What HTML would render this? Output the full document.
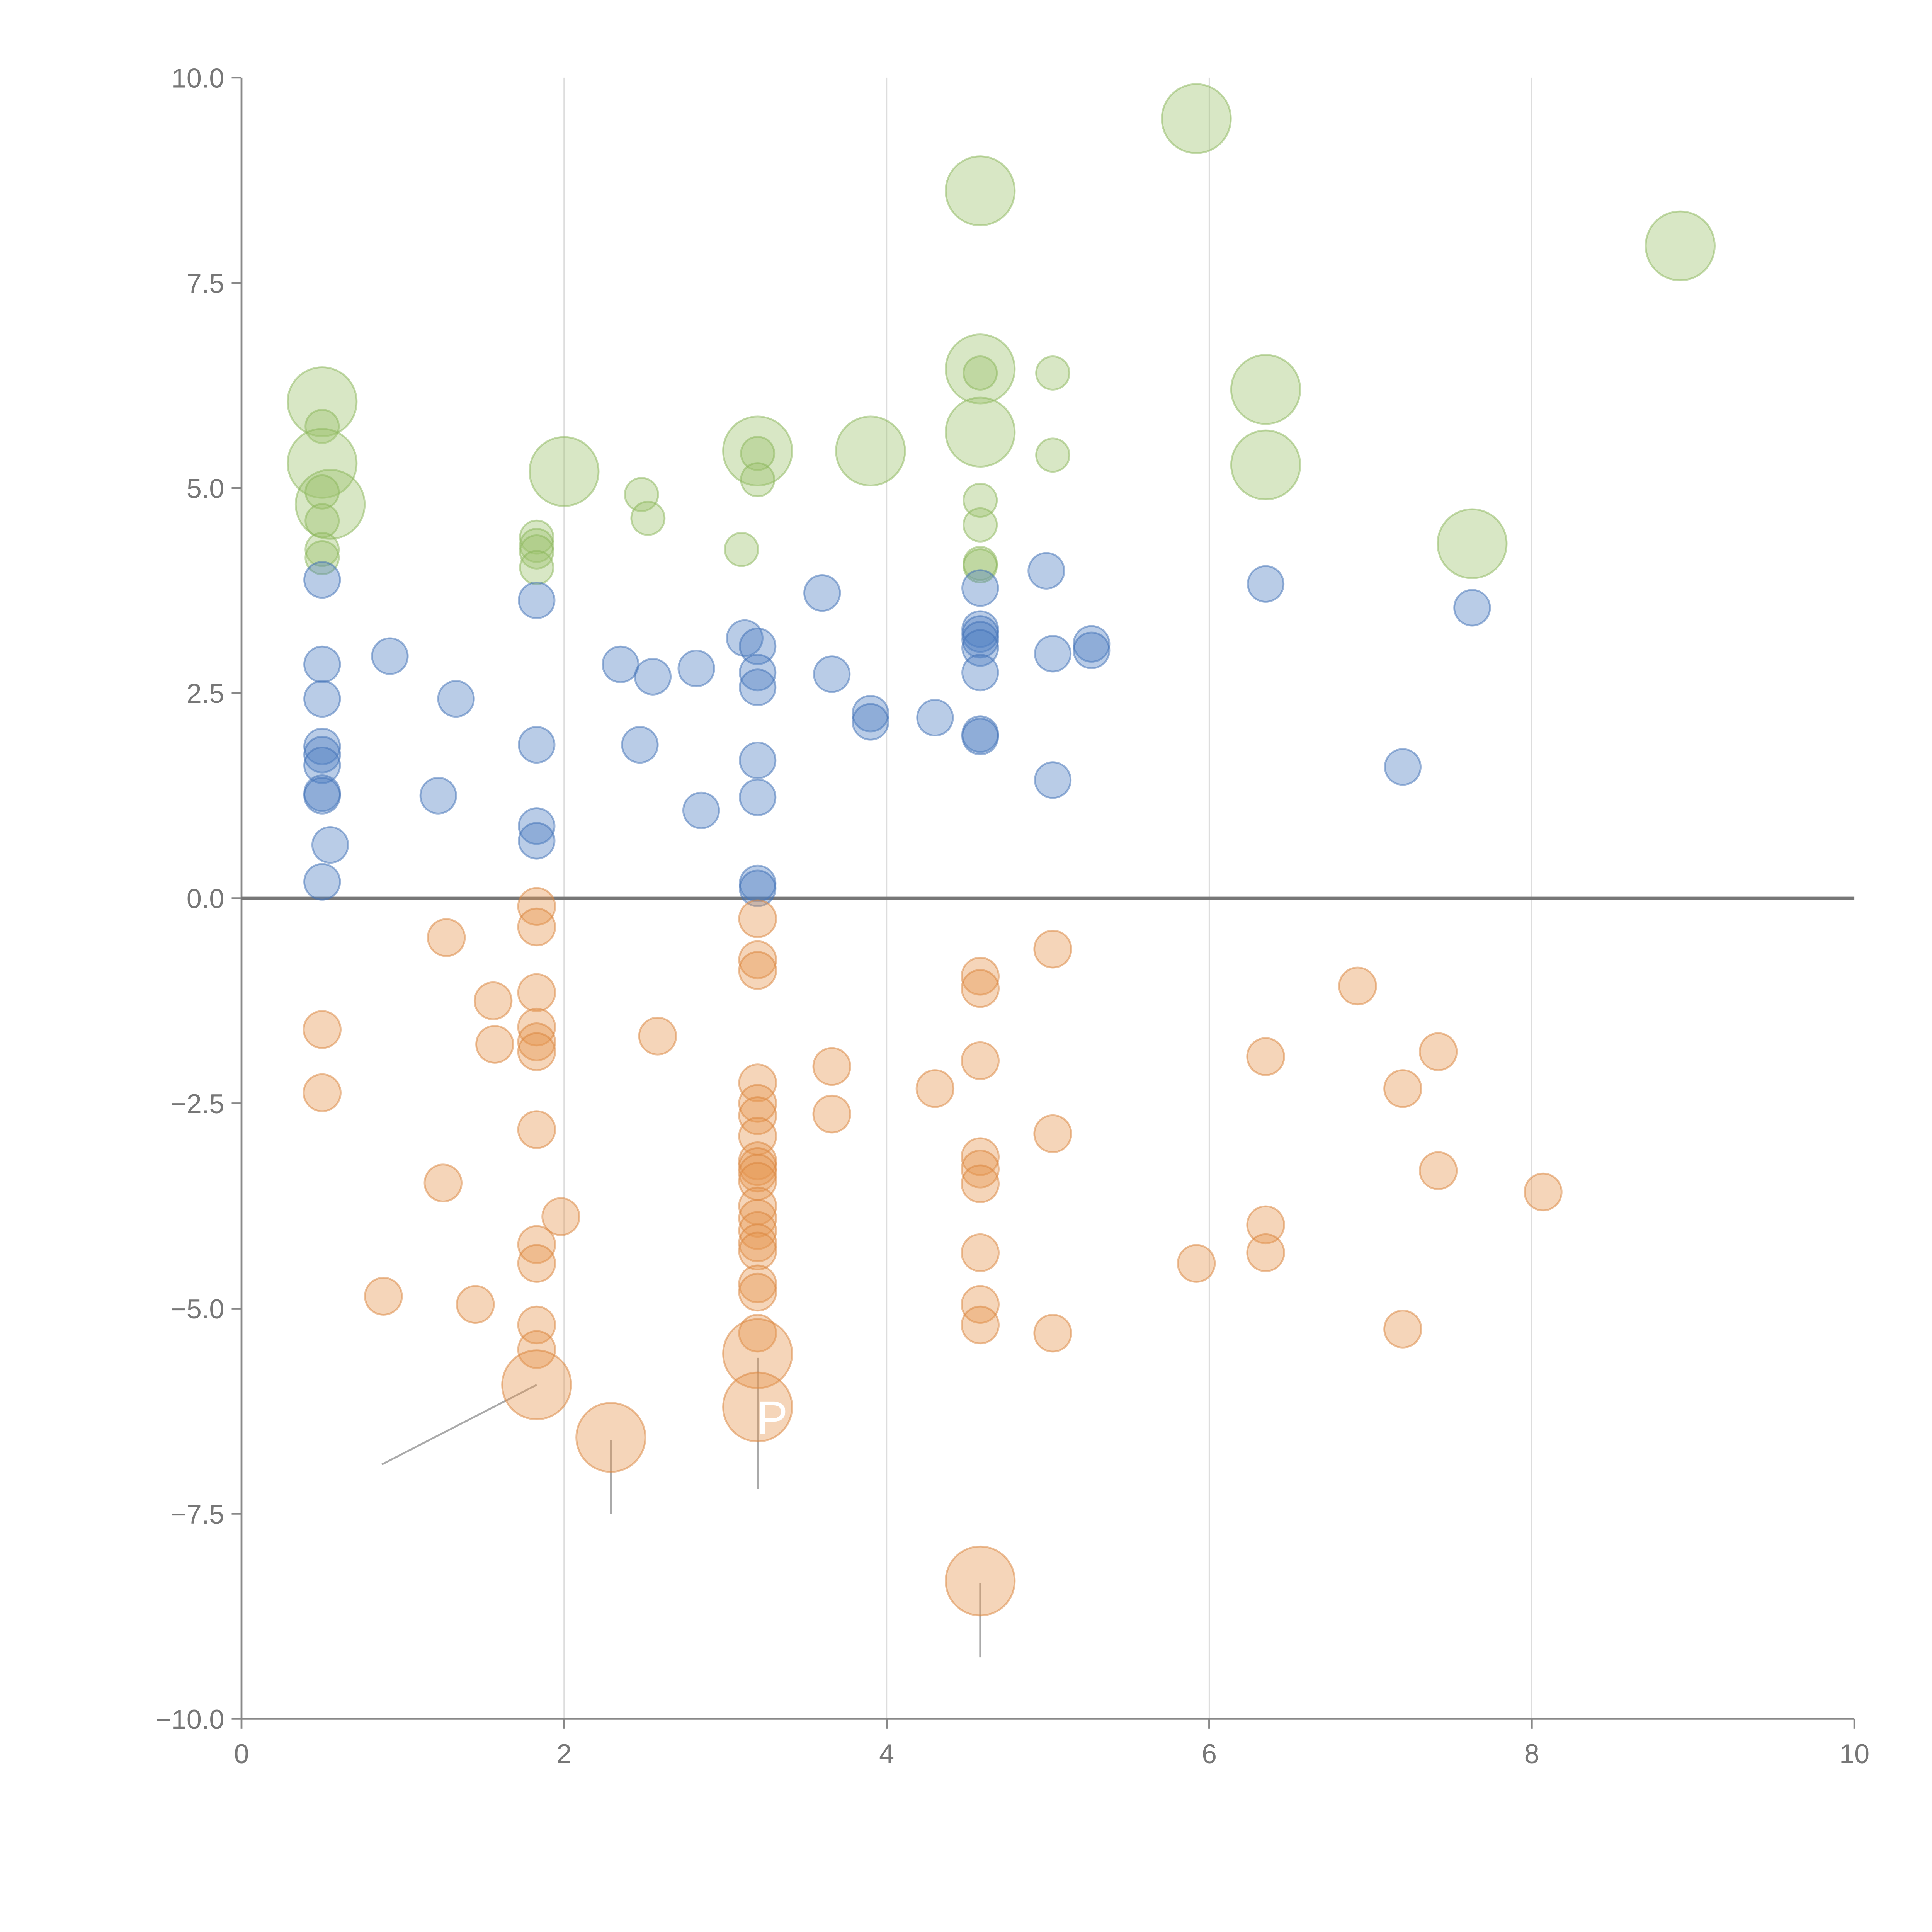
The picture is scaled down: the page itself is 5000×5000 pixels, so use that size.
<!DOCTYPE html>
<html><head><meta charset="utf-8"><style>
html,body{margin:0;padding:0;background:#fff;}
svg{display:block;}
text{font-family:"Liberation Sans",sans-serif;fill:#777;}
</style></head><body>
<svg id="chart" width="5000" height="5000" viewBox="0 0 1568 1568" xmlns="http://www.w3.org/2000/svg">
<g id="grid"></g>
<g id="axes"></g>
<g id="leaders"></g>
<g id="marks"></g>
<text x="614" y="1164" style="fill:#fff;font-size:38px">P</text>
</svg>
<script>
const xTicks=[0,2,4,6,8,10];
const yTicks=[10,7.5,5,2.5,0,-2.5,-5,-7.5,-10];
const greenX=[0.5,0.5,0.5,0.55,0.5,0.5,0.5,0.5,1.83,1.83,1.83,1.83,2.0,2.48,2.52,3.1,3.2,3.2,3.2,3.9,4.58,4.58,4.58,4.58,4.58,4.58,4.58,4.58,5.03,5.03,5.92,6.35,6.35,7.63,8.92];
const greenY=[6.05,5.75,5.3,4.8,4.95,4.6,4.25,4.15,4.4,4.3,4.22,4.03,5.2,4.92,4.63,4.25,5.45,5.42,5.1,5.45,8.62,6.45,6.4,5.68,4.85,4.55,4.08,4.05,6.4,5.4,9.5,6.2,5.28,4.32,7.95];
const greenS=[1,0,1,1,0,0,0,0,0,0,0,0,1,0,0,0,1,0,0,1,1,1,0,1,0,0,0,0,0,0,1,1,1,1,1];
const blueX=[0.5,0.5,0.5,0.5,0.5,0.5,0.5,0.5,0.55,0.5,0.92,1.22,1.33,1.83,1.83,1.83,1.83,2.35,2.47,2.55,2.82,2.85,3.12,3.2,3.2,3.2,3.2,3.2,3.2,3.2,3.6,3.66,3.9,3.9,4.3,4.58,4.58,4.58,4.58,4.58,4.58,4.58,4.58,4.99,5.03,5.03,5.27,5.27,6.35,7.2,7.63];
const blueY=[3.88,2.85,2.43,1.85,1.75,1.62,1.28,1.25,0.65,0.2,2.95,1.25,2.43,3.63,1.87,0.88,0.7,2.85,1.87,2.7,2.8,1.07,3.17,3.07,2.75,2.57,1.68,1.23,0.18,0.12,3.72,2.73,2.25,2.15,2.2,3.78,3.28,3.22,3.15,3.05,2.75,2.0,1.97,3.99,2.98,1.44,3.1,3.02,3.83,1.6,3.54];
const orangeX=[0.5,0.5,0.88,1.27,1.25,1.45,1.56,1.57,1.83,1.83,1.83,1.83,1.83,1.83,1.83,1.83,1.83,1.83,1.83,1.83,1.98,2.29,2.58,3.2,3.2,3.2,3.2,3.2,3.2,3.2,3.2,3.2,3.2,3.2,3.2,3.2,3.2,3.2,3.2,3.2,3.2,3.2,3.2,3.2,3.66,3.66,4.3,4.58,4.58,4.58,4.58,4.58,4.58,4.58,4.58,4.58,4.58,5.03,5.03,5.03,5.92,6.35,6.35,6.35,6.92,7.2,7.2,7.42,7.42,8.07];
const orangeY=[-1.6,-2.37,-4.85,-0.48,-3.47,-4.95,-1.25,-1.78,-0.1,-0.35,-1.15,-1.57,-1.75,-1.87,-2.82,-4.22,-4.45,-5.2,-5.5,-5.93,-3.88,-6.57,-1.68,-0.25,-0.75,-0.88,-2.25,-2.5,-2.65,-2.9,-3.2,-3.27,-3.35,-3.45,-3.75,-3.9,-4.05,-4.2,-4.3,-4.7,-4.8,-5.3,-5.55,-6.2,-2.05,-2.63,-2.32,-0.95,-1.1,-1.98,-3.15,-3.3,-3.48,-4.32,-4.95,-5.2,-8.32,-0.62,-2.87,-5.3,-4.45,-1.93,-3.98,-4.32,-1.07,-2.32,-5.25,-1.87,-3.32,-3.58];
const orangeBig=[19,21,42,43,56];
const leaderFromX=[1.83,2.29,3.2,4.58];
const leaderFromY=[-5.93,-6.6,-5.6,-8.35];
const leaderToX=[0.87,2.29,3.2,4.58];
const leaderToY=[-6.9,-7.5,-7.2,-9.25];

const NS='http://www.w3.org/2000/svg';
const X0=196,X1=1505,Y0=1395,Y1=63;
function sx(v){return X0+(v-0)/(10-0)*(X1-X0);}
function sy(v){return Y0-(v+10)/20*(Y0-Y1);}
function mk(tag,attrs,parent){const e=document.createElementNS(NS,tag);for(const k in attrs)e.setAttribute(k,attrs[k]);parent.appendChild(e);return e;}
const grid=document.getElementById('grid'),axes=document.getElementById('axes'),marks=document.getElementById('marks'),leaders=document.getElementById('leaders');
xTicks.forEach(t=>{
  if(t>0&&t<10){const g=mk('line',{x1:sx(t),x2:sx(t),y1:Y1,y2:Y0,stroke:'#ddd','stroke-width':1},grid);
  
  }
  const tk=mk('line',{x1:sx(t),x2:sx(t),y1:Y0,y2:Y0+8,stroke:'#888','stroke-width':1.5},axes);
  
  
  const tx=mk('text',{x:sx(t),y:Y0+36,'text-anchor':'middle','font-size':22},axes);
  
  
  tx.textContent=String(t);
});
yTicks.forEach(t=>{
  const tk=mk('line',{x1:X0-8,x2:X0,y1:sy(t),y2:sy(t),stroke:'#888','stroke-width':1.5},axes);
  
  
  const tx=mk('text',{x:X0-14,y:sy(t)+8,'text-anchor':'end','font-size':22},axes);
  
  
  tx.textContent=(t<0?'\u2212':'')+Math.abs(t).toFixed(1);
});
const ya=mk('line',{x1:X0,x2:X0,y1:Y1,y2:Y0,stroke:'#888','stroke-width':1.5},axes);


const xa=mk('line',{x1:X0,x2:X1,y1:Y0,y2:Y0,stroke:'#888','stroke-width':1.5},axes);


const zl=mk('line',{x1:X0,x2:X1,y1:sy(0),y2:sy(0),stroke:'#777','stroke-width':2.5},axes);



function bubbles(xs,ys,big,fill,stroke,name,rs,rl){
  xs.forEach((x,i)=>{
    const r=big(i)?rl:rs;
    const c=mk('circle',{cx:sx(x),cy:sy(ys[i]),r:r,fill:fill,'fill-opacity':0.4,stroke:stroke,'stroke-opacity':0.5,'stroke-width':1.5},marks);
    
    
  });
}
bubbles(greenX,greenY,i=>greenS[i]===1,'#9dc36e','#8ab55a','green-bubble',13.5,28);
bubbles(blueX,blueY,i=>false,'#4f7fc2','#3f6fb5','blue-bubble',14.5,14.5);
bubbles(orangeX,orangeY,i=>orangeBig.indexOf(i)>=0,'#e6964f','#d9843c','orange-bubble',15,28);
leaderFromX.forEach((x,i)=>{
  const l=mk('line',{x1:sx(x),y1:sy(leaderFromY[i]),x2:sx(leaderToX[i]),y2:sy(leaderToY[i]),stroke:'#aaa','stroke-width':1.5},leaders);
  
  
});
</script>
</body></html>
